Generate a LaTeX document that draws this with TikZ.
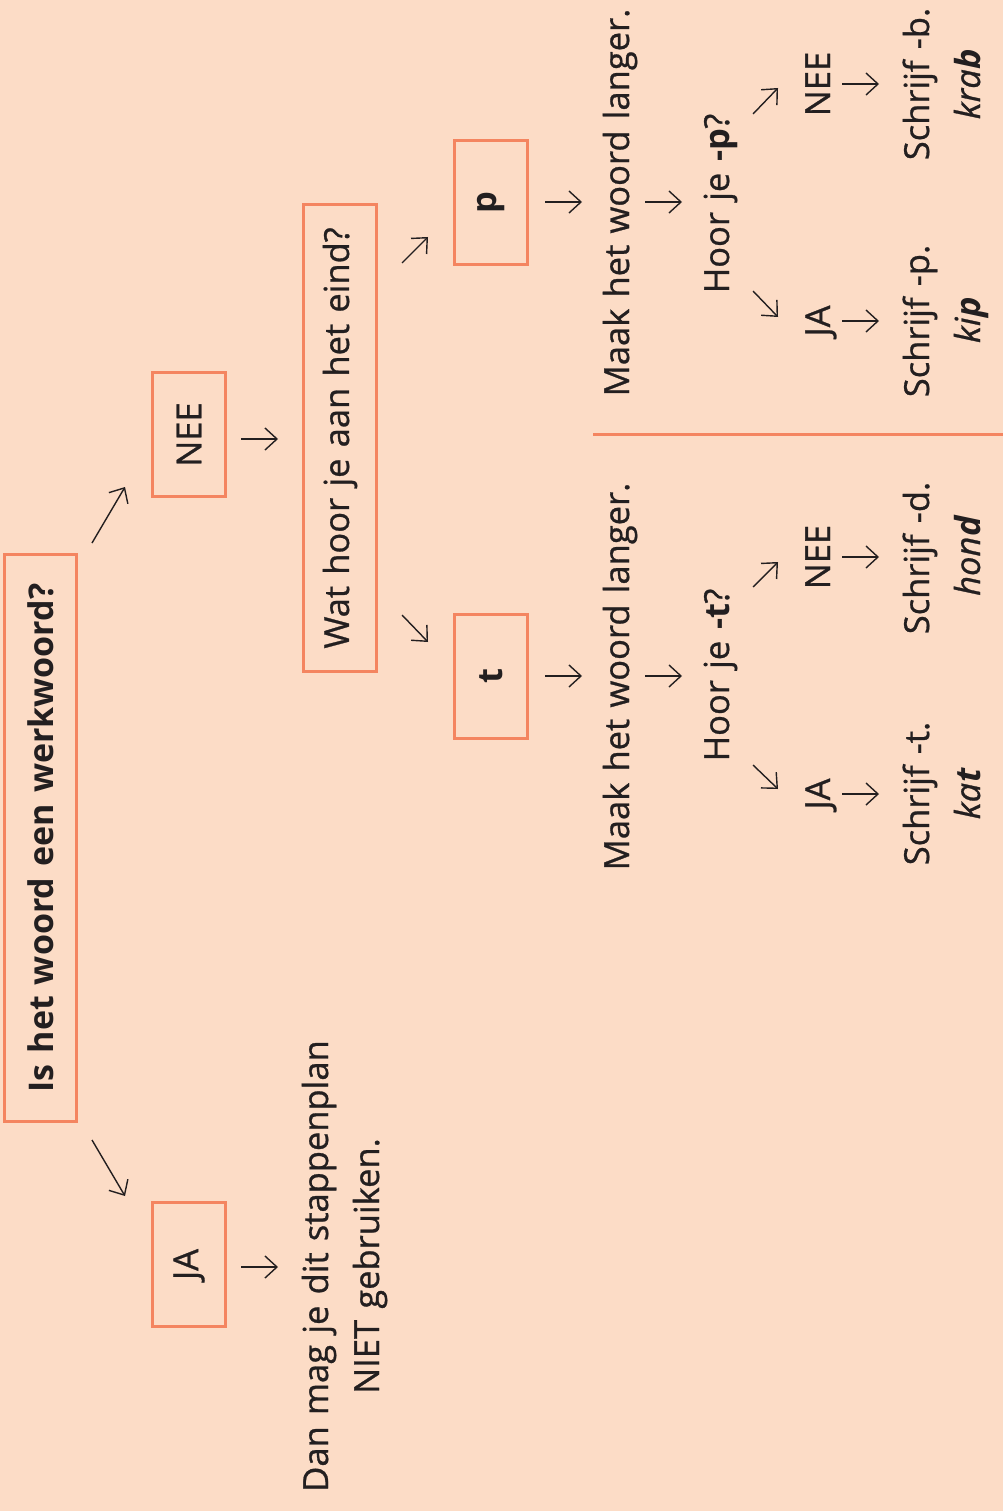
\documentclass[tikz,border=0pt]{standalone}
\usepackage{fontspec}
\setmainfont{Open Sans}[UprightFeatures={FakeBold=0.8}, ItalicFeatures={FakeBold=0.8}, WordSpace=1.25]
\usetikzlibrary{arrows.meta}
\definecolor{bg}{RGB}{252,220,198}
\definecolor{coral}{RGB}{244,133,96}
\definecolor{ink}{RGB}{35,31,32}
\newcommand{\bigfont}{\fontsize{34.5}{42}\selectfont}
\begin{document}
\begin{tikzpicture}[x=1pt,y=-1pt,
  box/.style={draw=coral, line width=3pt, rotate=90, inner sep=0pt, text=ink, font=\bigfont},
  smallbox/.style={box, minimum width=124pt, minimum height=73pt},
  lbl/.style={rotate=90, anchor=base, inner sep=0pt, text=ink, font=\bigfont},
  arr/.style={draw=ink, line width=1.4pt, -{Straight Barb[length=12pt,width=22pt]}},
]
\fill[bg] (0,0) rectangle (1003,1511);
\useasboundingbox (0,0) rectangle (1003,1511);

% boxes
\node[box, minimum width=567pt, minimum height=72pt, font=\fontsize{34}{42}\selectfont\bfseries] (main) at (40.5,838) {Is het woord een werkwoord?};
\node[smallbox] (nee) at (189,434.5) {NEE};
\node[smallbox] (ja) at (189,1264.5) {JA};
\node[box, minimum width=467pt, minimum height=73pt] (wat) at (340,438) {Wat hoor je aan het eind?};
\node[smallbox, font=\bigfont\bfseries] (pbox) at (491,203) {p};
\node[smallbox, font=\bigfont\bfseries] (tbox) at (491,676) {t};

% JA branch text
\node[lbl] (dan1) at (328,1266) {Dan mag je dit stappenplan};
\node[lbl] (dan2) at (379,1266) {NIET gebruiken.};

% p branch
\node[lbl] (maakp) at (629,202.5) {Maak het woord langer.};
\node[lbl] (hoorp) at (729,203.5) {Hoor je \textbf{-p}?};
\node[lbl] (neep) at (830,84) {NEE};
\node[lbl] (jap) at (830,321) {JA};
\node[lbl] (schb) at (929,84) {Schrijf -b.};
\node[lbl] (krab) at (980,84) {\itshape kra\textbf{b}};
\node[lbl] (schp) at (929,321) {Schrijf -p.};
\node[lbl] (kip) at (980,320) {\itshape ki\textbf{p}};

% t branch
\node[lbl] (maakt) at (629,676.5) {Maak het woord langer.};
\node[lbl] (hoort) at (729,675) {Hoor je \textbf{-t}?};
\node[lbl] (neet) at (830,557) {NEE};
\node[lbl] (jat) at (830,794) {JA};
\node[lbl] (schd) at (929,558) {Schrijf -d.};
\node[lbl] (hond) at (980,556) {\itshape hon\textbf{d}};
\node[lbl] (scht) at (929,793.5) {Schrijf -t.};
\node[lbl] (kat) at (980,794) {\itshape ka\textbf{t}};

% separator
\draw[coral, line width=3pt] (593,434) -- (1003,434);

% connectors
\draw[arr] (main) ++(51.5,-295) -- ++(33,-56);
\draw[arr] (main) ++(51.5,302) -- ++(33,56);
\draw[arr] (nee) ++(52,4.5) -- ++(37,0);
\draw[arr] (ja) ++(52,2.5) -- ++(37,0);
\draw[arr] (wat) ++(62,-175) -- ++(26,-26);
\draw[arr] (wat) ++(62,177) -- ++(26,27);
\draw[arr] (pbox) ++(54,-1) -- ++(37,0);
\draw[arr] (tbox) ++(54,0) -- ++(37,0);
\draw[arr] (maakp.base) ++(16,-0.5) -- ++(37,0);
\draw[arr] (maakt.base) ++(16,-0.5) -- ++(37,0);
\draw[arr] (hoorp.base) ++(24,-89.5) -- ++(25,-26);
\draw[arr] (hoorp.base) ++(24,87.5) -- ++(25,26);
\draw[arr] (hoort.base) ++(24,-88) -- ++(25,-25);
\draw[arr] (hoort.base) ++(24,90) -- ++(25,24);
\draw[arr] (neep.base) ++(12,0) -- ++(37,0);
\draw[arr] (jap.base) ++(12,0) -- ++(37,0);
\draw[arr] (neet.base) ++(12,0) -- ++(37,0);
\draw[arr] (jat.base) ++(12,0) -- ++(37,0);
\end{tikzpicture}
\end{document}
